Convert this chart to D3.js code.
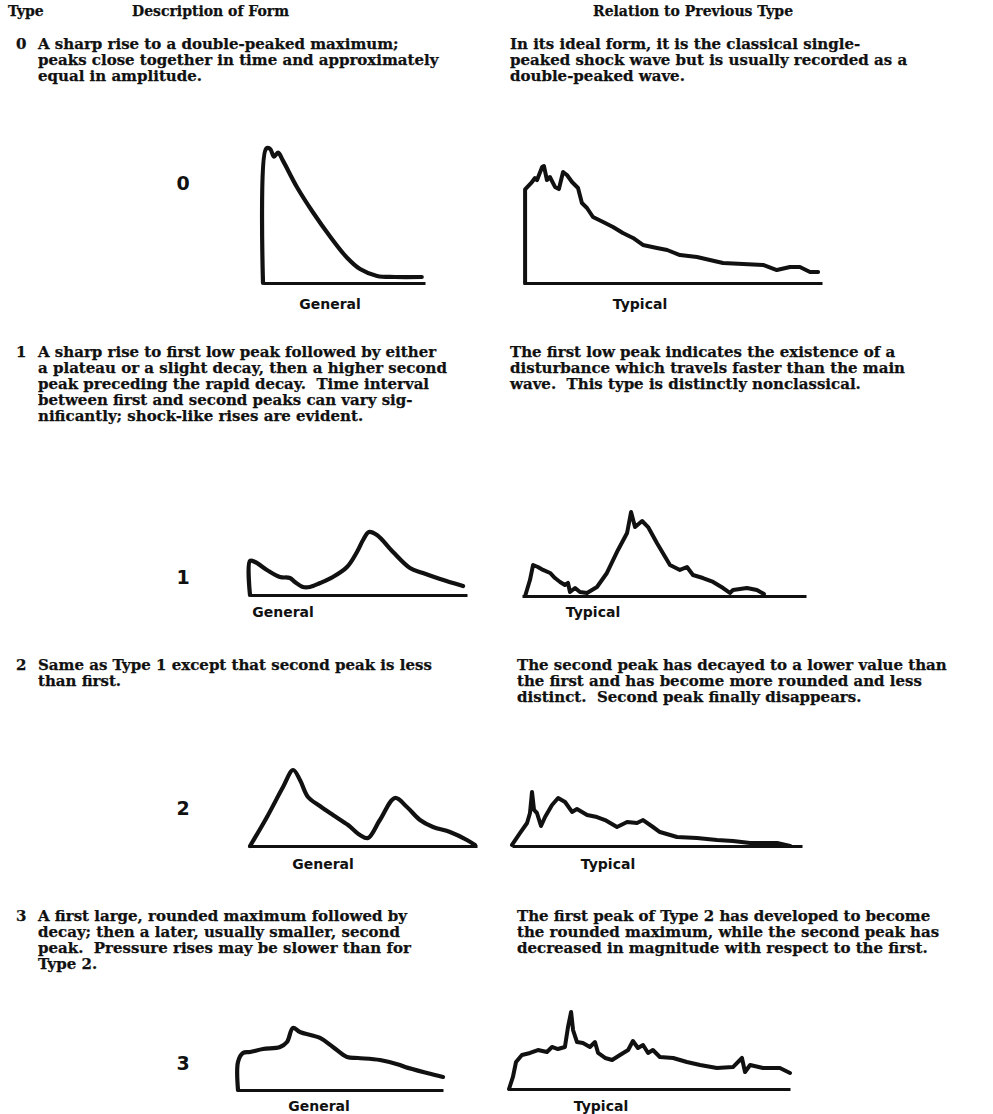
<!DOCTYPE html>
<html><head><meta charset="utf-8">
<script src="https://cdn.jsdelivr.net/npm/d3@7"></script>
<style>body{margin:0;background:#fff}svg{display:block}</style>
</head><body>
<svg id="c" width="993" height="1114"></svg>
<script>
// ---------- text data ----------
const headers = ["Type", "Description of Form", "Relation to Previous Type"];
const typeIds = ["0", "1", "2", "3"];
const waveLabels = ["General", "Typical"];
const desc0 = ["A sharp rise to a double-peaked maximum;", "peaks close together in time and approximately", "equal in amplitude."];
const desc1 = ["A sharp rise to first low peak followed by either", "a plateau or a slight decay, then a higher second", "peak preceding the rapid decay.  Time interval", "between first and second peaks can vary sig-", "nificantly; shock-like rises are evident."];
const desc2 = ["Same as Type 1 except that second peak is less", "than first."];
const desc3 = ["A first large, rounded maximum followed by", "decay; then a later, usually smaller, second", "peak.  Pressure rises may be slower than for", "Type 2."];
const rel0 = ["In its ideal form, it is the classical single-", "peaked shock wave but is usually recorded as a", "double-peaked wave."];
const rel1 = ["The first low peak indicates the existence of a", "disturbance which travels faster than the main", "wave.  This type is distinctly nonclassical."];
const rel2 = ["The second peak has decayed to a lower value than", "the first and has become more rounded and less", "distinct.  Second peak finally disappears."];
const rel3 = ["The first peak of Type 2 has developed to become", "the rounded maximum, while the second peak has", "decreased in magnitude with respect to the first."];

// ---------- wave data (time 0-100, pressure relative to peak = 100) ----------
const gen0Time = [0, 1.9, 4.3, 6.8, 9.3, 12.3, 21, 30.9, 41.4, 51.9, 59.9, 70.4, 81.5, 98];
const gen0Pres = [0, 101, 101, 95, 98, 92, 72, 53, 35, 19, 10.5, 5.3, 4.5, 4.5];
const typ0Time = [0.7, 0.7, 3.0, 4.0, 4.7, 6.4, 7.0, 8.0, 9.0, 10.7, 12.0, 13.4, 14.7, 16.4, 18.4, 19.7, 21.4, 23.4, 26.8, 30.1, 33.4, 36.8, 40.1, 44.8, 48.2, 52.5, 58.2, 62.5, 66.9, 73.6, 80.3, 84.9, 89.3, 92.6, 96.0, 98.7];
const typ0Pres = [0, 80, 86.3, 89.7, 88.0, 99.1, 100, 88.0, 90.6, 82.1, 80.3, 94.9, 92.3, 86.3, 81.2, 68.4, 64.1, 56.4, 52.1, 47.9, 42.7, 38.5, 32.5, 29.9, 28.2, 23.9, 22.2, 19.7, 17.1, 16.2, 15.4, 11.1, 13.7, 13.7, 9.4, 9.4];
const gen1Time = [0, 0, 2.3, 7.8, 13.8, 18.4, 20.7, 24.4, 27.6, 32.3, 38.2, 44.7, 49.3, 52.1, 54.8, 58.5, 65.9, 73.7, 79.7, 87.6, 98.2];
const gen1Pres = [0, 54, 52.4, 39.7, 28.6, 27, 20.6, 12.7, 12.7, 19, 28.6, 44.4, 68.3, 87.3, 100, 95.2, 68.3, 42.9, 34.9, 25.4, 14.3];
const typ1Time = [1.1, 2.8, 3.9, 5.6, 7.4, 9.9, 11.6, 13.4, 15.1, 16.2, 16.9, 18.7, 20.4, 22.9, 26.4, 29.9, 33.8, 37.0, 38.4, 39.8, 42.3, 44.4, 47.5, 52.1, 55.6, 58.1, 60.2, 63.7, 67.3, 70.8, 73.2, 74.3, 79.2, 82.7, 85.2];
const typ1Pres = [0, 19, 36.9, 34.5, 31, 27.4, 21.4, 16.7, 13.1, 15.5, 4.8, 9.5, 4.8, 3.6, 10.7, 27.4, 54.8, 75, 100, 82.1, 89.3, 82.1, 63.1, 36.9, 31, 34.5, 25, 21.4, 16.7, 9.5, 3.6, 7.1, 9.5, 7.1, 2.4];
const gen2Time = [0.9, 8.3, 15.3, 19.7, 22.7, 26.2, 31.4, 37.1, 43.7, 48.9, 52.4, 57.6, 64.2, 69.4, 75.1, 80.8, 88.2, 95.6, 99.1];
const gen2Pres = [0, 38.2, 77.6, 100, 86.9, 64.5, 52.6, 40.8, 27.6, 14.5, 10.5, 34.2, 63.2, 51.3, 34.2, 25, 18.4, 7.9, 1.3];
const typ2Time = [0, 2.8, 5.2, 6.2, 6.9, 7.6, 8.6, 10, 11.4, 13.8, 15.9, 18.3, 20.7, 22.4, 25.9, 29.3, 32.1, 36.2, 39.7, 43.1, 45.2, 48.6, 51, 56.9, 63.8, 70.7, 76.2, 82.1, 91.4, 95.9];
const typ2Pres = [1.9, 24.1, 42.6, 61.1, 100, 66.7, 61.1, 37, 53.7, 75.9, 88.9, 81.5, 63, 68.5, 57.4, 53.7, 48.1, 35.2, 44.4, 42.6, 48.1, 35.2, 25.9, 16.7, 14.8, 11.1, 9.3, 5.6, 5.6, 0];
const gen3Time = [0, 0, 2.4, 5.9, 12.2, 20.5, 23.9, 26.8, 30.2, 40, 46.3, 53.2, 58.5, 69.3, 79, 81.5, 92.2, 100];
const gen3Pres = [0, 45.2, 59.7, 61.3, 66.1, 69.4, 77.4, 100, 93.5, 83.9, 69.4, 53.2, 51.6, 48.4, 40.3, 37.1, 27.4, 21];
const typ3Time = [0, 1.4, 2.5, 4.6, 7.5, 10.3, 13.5, 15.3, 17.4, 19.9, 21, 22.1, 22.8, 24.2, 26.3, 28.8, 30.6, 31.7, 34.2, 36.7, 39.5, 42.4, 44.1, 45.9, 47.7, 49.5, 51.2, 53.7, 58.4, 63.3, 68, 74, 79.7, 82.9, 84, 85.8, 90.4, 96.4, 100];
const typ3Pres = [0, 15.8, 35.5, 44.7, 47.4, 51.3, 48.7, 55.3, 52.6, 55.3, 81.6, 101.3, 77.6, 61.8, 60.5, 55.3, 61.8, 47.4, 40.8, 38.2, 44.7, 51.3, 63.2, 53.9, 57.9, 47.4, 51.3, 42.1, 40.8, 35.5, 31.6, 27.6, 28.9, 40.8, 22.4, 31.6, 27.6, 27.6, 21.1];

// ---------- layout ----------
const ink = "#111";
const rows = [
  {id: 0, desc: desc0, rel: rel0, textY: 49, relX: 510, numY: 190,
   gen: {t: gen0Time, p: gen0Pres, left: 263, right: 425, base: 283, top: 150, labelX: 330, labelY: 309, smooth: true},
   typ: {t: typ0Time, p: typ0Pres, left: 523, right: 822, base: 283, top: 166, labelX: 640, labelY: 309}},
  {id: 1, desc: desc1, rel: rel1, textY: 357, relX: 510, numY: 584,
   gen: {t: gen1Time, p: gen1Pres, left: 250, right: 467, base: 595, top: 532, labelX: 283, labelY: 617, smooth: true},
   typ: {t: typ1Time, p: typ1Pres, left: 522, right: 806, base: 596, top: 512, labelX: 593, labelY: 617}},
  {id: 2, desc: desc2, rel: rel2, textY: 670, relX: 517, numY: 815,
   gen: {t: gen2Time, p: gen2Pres, left: 248, right: 477, base: 846, top: 770, labelX: 323, labelY: 869, smooth: true},
   typ: {t: typ2Time, p: typ2Pres, left: 512, right: 802, base: 846, top: 792, labelX: 608, labelY: 869}},
  {id: 3, desc: desc3, rel: rel3, textY: 921, relX: 517, numY: 1070,
   gen: {t: gen3Time, p: gen3Pres, left: 238, right: 443, base: 1090, top: 1028, labelX: 319, labelY: 1111, smooth: true},
   typ: {t: typ3Time, p: typ3Pres, left: 509, right: 790, base: 1089, top: 1013, labelX: 601, labelY: 1111}}
];
const lineStep = 16;
const serif = "'DejaVu Serif', 'Liberation Serif', serif";
const sans = "'DejaVu Sans', 'Noto Sans', sans-serif";

const svg = d3.select("#c");

function bodyText(sel) {
  return sel.attr("font-family", serif).attr("font-weight", "bold").attr("font-size", 15)
    .attr("fill", ink).attr("stroke", ink).attr("stroke-width", 0.25).style("white-space", "pre");
}

// header
const hx = [8, 132, 593];
bodyText(svg.selectAll("text.hdr").data(headers).join("text")
  .attr("class", "hdr").attr("x", (d, i) => hx[i]).attr("y", 16))
  .attr("font-size", 14).text(d => d);

rows.forEach(r => {
  bodyText(svg.append("text").attr("x", 16).attr("y", r.textY)).text(typeIds[r.id]);
  bodyText(svg.append("g").selectAll("text").data(r.desc).join("text")
    .attr("x", 38).attr("y", (d, i) => r.textY + i * lineStep)).text(d => d);
  bodyText(svg.append("g").selectAll("text").data(r.rel).join("text")
    .attr("x", r.relX).attr("y", (d, i) => r.textY + i * lineStep)).text(d => d);
  svg.append("text").attr("x", 183).attr("y", r.numY).attr("text-anchor", "middle")
    .attr("font-family", sans).attr("font-weight", "bold").attr("font-size", 19)
    .attr("fill", ink).text(typeIds[r.id]);

  [["gen", 0], ["typ", 1]].forEach(([k, li]) => {
    const c = r[k];
    const x = d3.scaleLinear().domain([0, 100]).range([c.left, c.right]);
    const y = d3.scaleLinear().domain([0, 100]).range([c.base, c.top]);
    const ax = svg.append("g").attr("transform", `translate(0,${c.base})`)
      .call(d3.axisBottom(x).ticks(0).tickSizeOuter(0));
    ax.select(".domain").attr("stroke", ink).attr("stroke-width", 3.2);
    ax.selectAll("text").remove();
    const pts = c.t.map((t, i) => [t, c.p[i]]);
    const line = d3.line().x(d => x(d[0])).y(d => y(d[1]))
      .curve(c.smooth ? d3.curveCatmullRom.alpha(0.5) : d3.curveLinear);
    svg.append("path").datum(pts).attr("d", line)
      .attr("fill", "none").attr("stroke", ink)
      .attr("stroke-width", c.smooth ? 4.2 : 4)
      .attr("stroke-linejoin", "round").attr("stroke-linecap", "round");
    svg.append("text").attr("x", c.labelX).attr("y", c.labelY).attr("text-anchor", "middle")
      .attr("font-family", sans).attr("font-weight", "bold").attr("font-size", 14)
      .attr("fill", ink).text(waveLabels[li]);
  });
});
</script>
</body></html>
